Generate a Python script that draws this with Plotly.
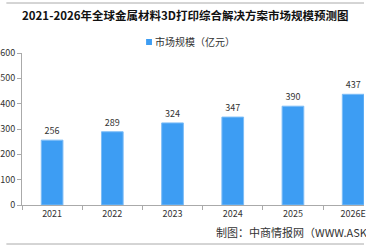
import plotly.graph_objects as go

categories = ["2021", "2022", "2023", "2024", "2025", "2026E"]
values = [256, 289, 324, 347, 390, 437]
title_text = "2021-2026年全球金属材料3D打印综合解决方案市场规模预测图"
legend_text = "市场规模（亿元）"
source_text = "制图：中商情报网（WWW.ASKCI.COM）"
y_ticks = [0, 100, 200, 300, 400, 500, 600]

W, H = 366, 248
L, R, T, B = 16, 0, 53, 43
pw = W - L - R

font = "Noto Sans CJK SC, Noto Sans, sans-serif"

fig = go.Figure()
fig.add_trace(go.Bar(
    x=categories, y=values,
    marker=dict(color="#3d9df3", line=dict(color="#7dbdf7", width=1)),
    text=[str(v) for v in values], textposition="outside",
    textfont=dict(size=9, color="#333333", family=font),
    cliponaxis=False, showlegend=False,
))

def px_x(p):
    return (p - L) / pw

def px_y(p):
    return 1 - (p - T) / (H - T - B)

fig.update_layout(
    width=W, height=H,
    margin=dict(l=L, r=R, t=T, b=B, pad=0),
    paper_bgcolor="white", plot_bgcolor="white",
    bargap=0.64,
    font=dict(family=font, size=9, color="#333333"),
    xaxis=dict(
        type="category", range=[-0.5, 5.18],
        showline=True, linecolor="#aaaaaa", linewidth=1,
        ticks="outside", ticklen=4, tickcolor="#aaaaaa", tickson="boundaries",
        showgrid=False, tickfont=dict(size=9, color="#333333"),
    ),
    yaxis=dict(
        range=[0, 600], tickvals=y_ticks,
        showline=True, linecolor="#aaaaaa", linewidth=1,
        ticks="outside", ticklen=4, tickcolor="#aaaaaa",
        showgrid=False, zeroline=False, tickfont=dict(size=9, color="#333333"),
    ),
    shapes=[
        dict(type="line", xref="paper", yref="paper", x0=px_x(0), x1=px_x(W),
             y0=px_y(3), y1=px_y(3), line=dict(color="#aaaaaa", width=1)),
        dict(type="line", xref="paper", yref="paper", x0=px_x(0), x1=px_x(W),
             y0=px_y(244), y1=px_y(244), line=dict(color="#aaaaaa", width=1)),
        dict(type="rect", xref="paper", yref="paper", x0=px_x(143), x1=px_x(149),
             y0=px_y(45), y1=px_y(39), fillcolor="#3d9df3", line=dict(width=0)),
    ],
    annotations=[
        dict(text="<b>" + title_text + "</b>", xref="paper", yref="paper",
             x=px_x(183), y=px_y(15), xanchor="center", yanchor="middle",
             showarrow=False, font=dict(size=11.5, color="#111111", family=font)),
        dict(text=legend_text, xref="paper", yref="paper",
             x=px_x(150), y=px_y(42), xanchor="left", yanchor="middle",
             showarrow=False, font=dict(size=10, color="#333333", family=font)),
        dict(text=source_text, xref="paper", yref="paper",
             x=px_x(213), y=px_y(232), xanchor="left", yanchor="middle",
             showarrow=False, font=dict(size=11, color="#333333", family=font)),
    ],
)

fig.write_html("out.html")
